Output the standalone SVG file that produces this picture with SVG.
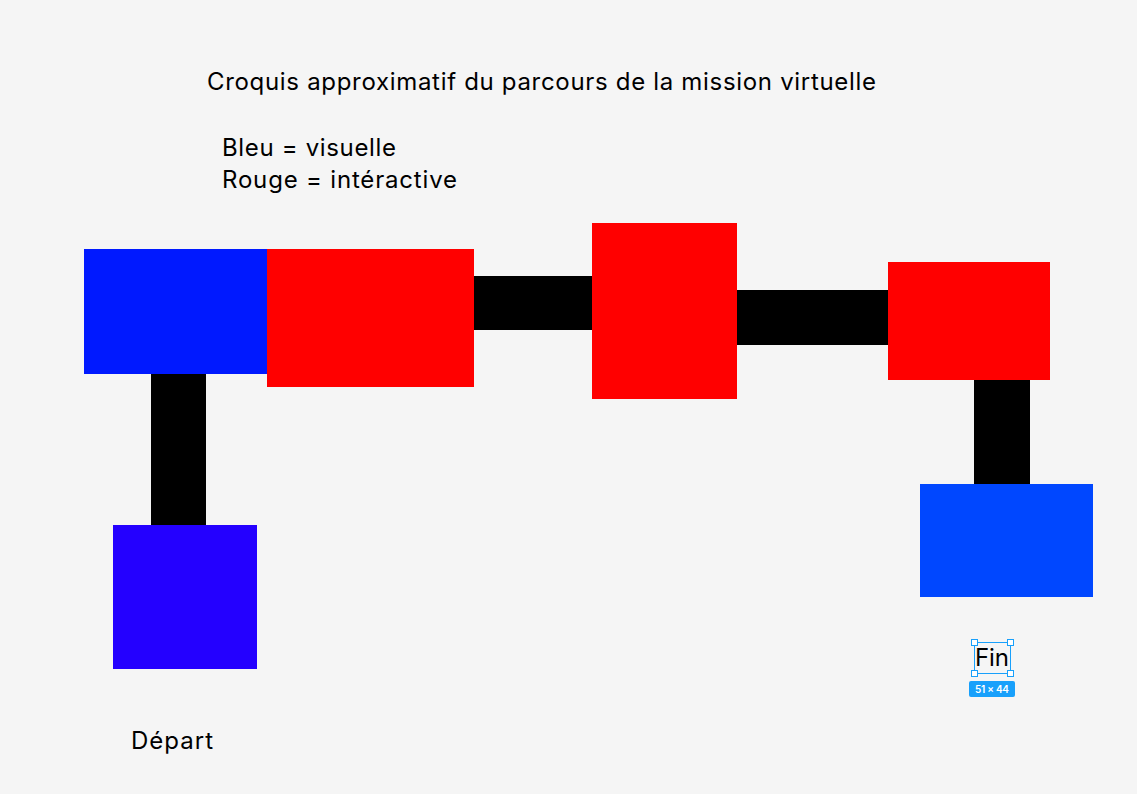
<svg xmlns="http://www.w3.org/2000/svg" width="1137" height="794" viewBox="0 0 1137 794">
<style>
.t{font-family:Inter,"Noto Sans","Liberation Sans",sans-serif;font-size:24px;fill:#000}
.red{fill:#FF0000}
.bar{fill:#000}
.h{fill:#fff;stroke:#18A0FB;stroke-width:1}
</style>
<rect width="1137" height="794" fill="#F5F5F5"/>
<g id="connectors">
<rect class="bar" x="151" y="374" width="55" height="151"/>
<rect class="bar" x="474" y="276" width="118" height="54"/>
<rect class="bar" x="737" y="290" width="151" height="55"/>
<rect class="bar" x="974" y="380" width="56" height="104"/>
</g>
<g id="title"><text class="t" x="207" y="90" textLength="669" lengthAdjust="spacing">Croquis approximatif du parcours de la mission virtuelle</text></g>
<g id="legend"><text class="t" x="222" y="156" textLength="174" lengthAdjust="spacing">Bleu = visuelle</text><text class="t" x="222" y="188" textLength="235" lengthAdjust="spacing">Rouge = intéractive</text></g>
<g id="node-blue1"><rect x="84" y="249" width="183" height="125" fill="#0019FF"/></g>
<g id="node-red1"><rect class="red" x="267" y="249" width="207" height="138"/></g>
<g id="node-red2"><rect class="red" x="592" y="223" width="145" height="176"/></g>
<g id="node-red3"><rect class="red" x="888" y="262" width="162" height="118"/></g>
<g id="node-blue2"><rect x="113" y="525" width="144" height="144" fill="#2400FF"/></g>
<g id="node-blue3"><rect x="920" y="484" width="173" height="113" fill="#0047FF"/></g>
<g id="label-depart"><text class="t" x="131" y="749" textLength="82" lengthAdjust="spacing">Départ</text></g>
<g id="label-fin">
<text class="t" x="975" y="666" textLength="34" lengthAdjust="spacing">Fin</text>
<rect x="974.5" y="642.5" width="36" height="31" fill="none" stroke="#18A0FB" stroke-width="1"/>
<rect class="h" x="971.5" y="639.5" width="6" height="6"/>
<rect class="h" x="1007.5" y="639.5" width="6" height="6"/>
<rect class="h" x="971.5" y="670.5" width="6" height="6"/>
<rect class="h" x="1007.5" y="670.5" width="6" height="6"/>
<rect x="969" y="681" width="46" height="16" rx="2" fill="#18A0FB"/>
<text x="992" y="692.5" text-anchor="middle" font-family="Inter,'Liberation Sans',sans-serif" font-size="10" font-weight="600" fill="#fff" textLength="34" lengthAdjust="spacing">51 × 44</text>
</g>
</svg>
